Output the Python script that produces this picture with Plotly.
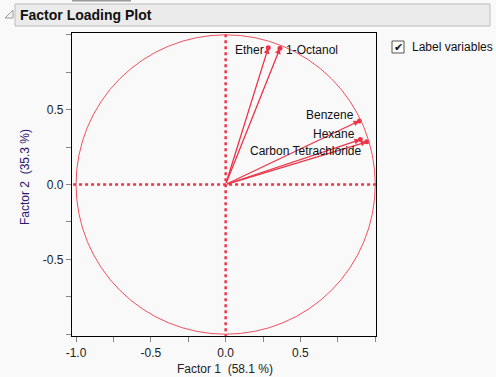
import plotly.graph_objects as go

# ---- data ----
variables = ["Ether", "1-Octanol", "Benzene", "Hexane", "Carbon Tetrachloride"]
factor1 = [0.285, 0.363, 0.894, 0.900, 0.943]
factor2 = [0.914, 0.910, 0.425, 0.300, 0.285]
x_tick_vals = [-1.0, -0.5, 0.0, 0.5, 1.0]
x_tick_text = ["-1.0", "-0.5", "0.0", "0.5", ""]
y_tick_vals = [-1.0, -0.5, 0.0, 0.5, 1.0]
y_tick_text = ["", "-0.5", "0.0", "0.5", ""]
x_title = "Factor 1  (58.1 %)"
y_title = "Factor 2  (35.3 %)"
plot_title = "Factor Loading Plot"

RED = "rgb(236,52,72)"
CIRCLE = "rgb(240,80,95)"
BG = "#f9f9f9"
FONT = "Liberation Sans"

W, H = 496, 377
ML, MR, MT, MB = 72, 120, 33, 41
pw, ph = W - ML - MR, H - MT - MB


def px(xp):
    return (xp - ML) / pw


def py(yp):
    return (H - MB - yp) / ph


fig = go.Figure()

# dotted axes through origin
fig.add_trace(go.Scatter(x=[-1.1, 1.1], y=[0, 0], mode="lines",
                         line=dict(color=RED, width=2.5, dash="dot"),
                         hoverinfo="skip", showlegend=False))
fig.add_trace(go.Scatter(x=[0, 0], y=[-1.1, 1.1], mode="lines",
                         line=dict(color=RED, width=2.5, dash="dot"),
                         hoverinfo="skip", showlegend=False))

# tip markers
fig.add_trace(go.Scatter(x=factor1, y=factor2, mode="markers",
                         marker=dict(color=RED, size=5),
                         hoverinfo="text", text=variables, showlegend=False))

# arrows
for v, a, b in zip(variables, factor1, factor2):
    fig.add_annotation(x=a, y=b, ax=0, ay=0, xref="x", yref="y",
                       axref="x", ayref="y", showarrow=True, text="",
                       arrowhead=2, arrowsize=0.9, arrowwidth=1.3,
                       arrowcolor=RED, standoff=0)

# label placement (anchor, xshift, yshift)
label_pos = {
    "Ether": ("right", -2, -2),
    "1-Octanol": ("left", 4, -2),
    "Benzene": ("right", -3, 6),
    "Hexane": ("right", -3, 6),
    "Carbon Tetrachloride": ("right", -3, -9),
}
for v, a, b in zip(variables, factor1, factor2):
    anc, xs, ys = label_pos[v]
    fig.add_annotation(x=a, y=b, xref="x", yref="y", text=v,
                       showarrow=False, xanchor=anc, yanchor="middle",
                       xshift=xs, yshift=ys,
                       font=dict(family=FONT, size=12, color="#111"))

# axis titles
fig.add_annotation(x=px(225), y=py(369), xref="paper", yref="paper", text=x_title,
                   showarrow=False, xanchor="center", yanchor="middle",
                   font=dict(family=FONT, size=12, color="#222"))
fig.add_annotation(x=px(25), y=py(177), xref="paper", yref="paper", text=y_title,
                   showarrow=False, xanchor="center", yanchor="middle",
                   textangle=-90,
                   font=dict(family=FONT, size=12, color="#2a1670"))

# header title
fig.add_annotation(x=px(18), y=py(15), xref="paper", yref="paper",
                   text="<b>" + plot_title + "</b>",
                   showarrow=False, xanchor="left", yanchor="middle",
                   font=dict(family=FONT, size=14, color="#111"))

# checkbox label
fig.add_annotation(x=px(410), y=py(47), xref="paper", yref="paper",
                   text="Label variables", showarrow=False, xanchor="left",
                   yanchor="middle", font=dict(family=FONT, size=12, color="#111"))
fig.add_annotation(x=px(398), y=py(47), xref="paper", yref="paper",
                   text="✔", showarrow=False, xanchor="center",
                   yanchor="middle", font=dict(family="DejaVu Sans", size=11, color="#111"))

shapes = [
    # unit circle
    dict(type="circle", xref="x", yref="y", x0=-1, y0=-1, x1=1, y1=1,
         line=dict(color=CIRCLE, width=1), layer="above"),
    # header bar
    dict(type="rect", xref="paper", yref="paper", x0=px(15), x1=px(490),
         y0=py(4), y1=py(26), fillcolor="#ebebeb", line=dict(color="#bdbdbd", width=1),
         layer="below"),
    # disclosure triangle
    dict(type="path", xref="paper", yref="paper",
         path=f"M {px(5)} {py(18)} L {px(13)} {py(18)} L {px(13)} {py(10)} Z",
         fillcolor="#f3f3f3", line=dict(color="#999", width=1)),
    # top gray tab line
    dict(type="rect", xref="paper", yref="paper", x0=px(72), x1=px(131),
         y0=py(0), y1=py(1.5), fillcolor="#999", line=dict(width=0)),
    # checkbox
    dict(type="rect", xref="paper", yref="paper", x0=px(392), x1=px(404),
         y0=py(41), y1=py(53), fillcolor="white", line=dict(color="#555", width=1)),
]
fig.update_layout(shapes=shapes)

axis_common = dict(showgrid=False, zeroline=False, showline=True, mirror=True,
                   linecolor="black", linewidth=1.2,
                   ticks="outside", ticklen=5, tickcolor="#888", tickwidth=1,
                   tickfont=dict(family=FONT, size=12, color="#222"),
                   minor=dict(ticks="outside", ticklen=5, tickcolor="#888",
                              tickmode="array",
                              tickvals=[-0.75, -0.25, 0.25, 0.75]))

fig.update_xaxes(range=[-1.027, 1.005], tickmode="array", tickvals=x_tick_vals,
                 ticktext=x_tick_text, **axis_common)
fig.update_yaxes(range=[-1.012, 1.012], tickmode="array", tickvals=y_tick_vals,
                 ticktext=y_tick_text, **axis_common)

fig.update_layout(width=W, height=H, margin=dict(l=ML, r=MR, t=MT, b=MB),
                  paper_bgcolor=BG, plot_bgcolor=BG, showlegend=False,
                  font=dict(family=FONT, size=12))

fig.write_html("out.html", config={"displayModeBar": False},
               post_script="document.body.style.margin='0';document.body.style.padding='0';"
                           "document.body.style.background='" + BG + "';")
